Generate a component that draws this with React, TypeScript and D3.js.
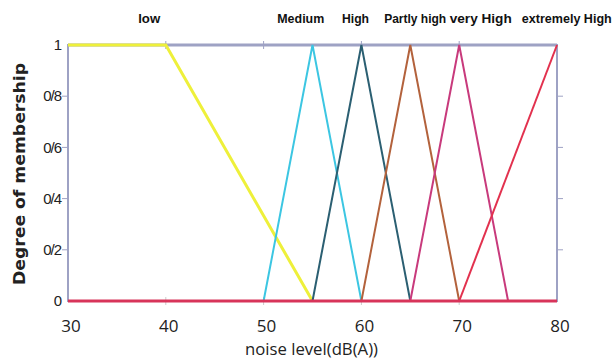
import React from "react";
import * as d3 from "d3";

const setNames = ["low", "Medium", "High", "Partly high", "very High", "extremely High"];
const setColors = ["#eef03a", "#3cc6e2", "#2b5f72", "#b3623c", "#c83a7c", "#e2314e"];
// breakpoints (x, membership) of each fuzzy set
const lowPts: [number, number][] = [[30, 1], [40, 1], [55, 0]];
const mediumPts: [number, number][] = [[50, 0], [55, 1], [60, 0]];
const highPts: [number, number][] = [[55, 0], [60, 1], [65, 0]];
const partlyHighPts: [number, number][] = [[60, 0], [65, 1], [70, 0]];
const veryHighPts: [number, number][] = [[65, 0], [70, 1], [75, 0]];
const extremelyHighPts: [number, number][] = [[70, 0], [80, 1]];
const labelPos = [38.3, 53.8, 59.4, 65.5, 72.2, 81];
const labelWidths = [22, 47, 27, 62, 62, 90];
const xTicks = [30, 40, 50, 60, 70, 80];
const yTicks = [0, 0.2, 0.4, 0.6, 0.8, 1];
const yTickLabels = ["0", "0/2", "0/4", "0/6", "0/8", "1"];

export default function App() {
  const W = 614, H = 363;
  const L = 68, R = 557, T = 45, B = 301;
  const x = d3.scaleLinear().domain([30, 80]).range([L, R]);
  const y = d3.scaleLinear().domain([0, 1]).range([B, T]);
  const line = d3.line<[number, number]>().x(d => x(d[0])).y(d => y(d[1]));
  const series = [lowPts, mediumPts, highPts, partlyHighPts, veryHighPts, extremelyHighPts];
  const axisColor = "#9ea2c4";
  return (
    <svg width={W} height={H} style={{ position: "absolute", left: 0, top: 0, background: "#fff" }}>
      {/* frame */}
      <rect x={L} y={T} width={R - L} height={B - T} fill="none" stroke={axisColor} strokeWidth={2} />
      <line x1={L} x2={R} y1={T} y2={T} stroke={axisColor} strokeWidth={3} />
      {/* top ticks */}
      {xTicks.slice(1, -1).map(t => (
        <line key={"tt" + t} x1={x(t)} x2={x(t)} y1={T - 4} y2={T + 4} stroke={axisColor} strokeWidth={1} />
      ))}
      {xTicks.slice(1, -1).map(t => (
        <line key={"bt" + t} x1={x(t)} x2={x(t)} y1={B - 4} y2={B + 4} stroke="#ccc" strokeWidth={1} />
      ))}
      {yTicks.slice(1, -1).map(t => (
        <g key={"yt" + t}>
          <line x1={L - 6} x2={L} y1={y(t)} y2={y(t)} stroke={axisColor} strokeWidth={1} />
          <line x1={R} x2={R + 6} y1={y(t)} y2={y(t)} stroke={axisColor} strokeWidth={1} />
        </g>
      ))}
      {/* series */}
      {series.map((s, i) => (
        <path key={i} d={line(s) || ""} fill="none" stroke={setColors[i]} strokeWidth={i === 0 ? 3 : 2} />
      ))}
      {/* baseline at zero */}
      <line x1={L} x2={R} y1={B} y2={B} stroke="#d8345a" strokeWidth={3} />
      {/* y tick labels */}
      {yTicks.map((t, i) => (
        <text key={"yl" + t} x={L - 7} y={y(t)} dy="0.35em" textAnchor="end" fontFamily="Liberation Sans, sans-serif" fontSize={15} letterSpacing={-1} fill="#222">
          {yTickLabels[i]}
        </text>
      ))}
      {/* x tick labels */}
      {xTicks.map(t => (
        <text key={"xl" + t} x={x(t) + 3} y={B + 31} textAnchor="middle" fontFamily="Open Sans, sans-serif" fontSize={17} fill="#222">
          {t}
        </text>
      ))}
      {/* set labels */}
      {setNames.map((n, i) => (
        <text key={"sn" + i} x={x(labelPos[i]) - labelWidths[i] / 2} y={23} textLength={labelWidths[i]} lengthAdjust="spacingAndGlyphs" fontFamily="Liberation Sans, sans-serif" fontSize={12} fontWeight="bold" fill="#111">
          {n}
        </text>
      ))}
      <text x={245} y={355} textLength={133} lengthAdjust="spacingAndGlyphs" fontFamily="Open Sans, sans-serif" fontSize={16} fill="#222">
        noise level(dB(A))
      </text>
      <text transform={`translate(25,${285}) rotate(-90)`} textLength={222} lengthAdjust="spacingAndGlyphs" fontFamily="DejaVu Sans, sans-serif" fontSize={16} fontWeight="bold" fill="#222">
        Degree of membership
      </text>
    </svg>
  );
}
